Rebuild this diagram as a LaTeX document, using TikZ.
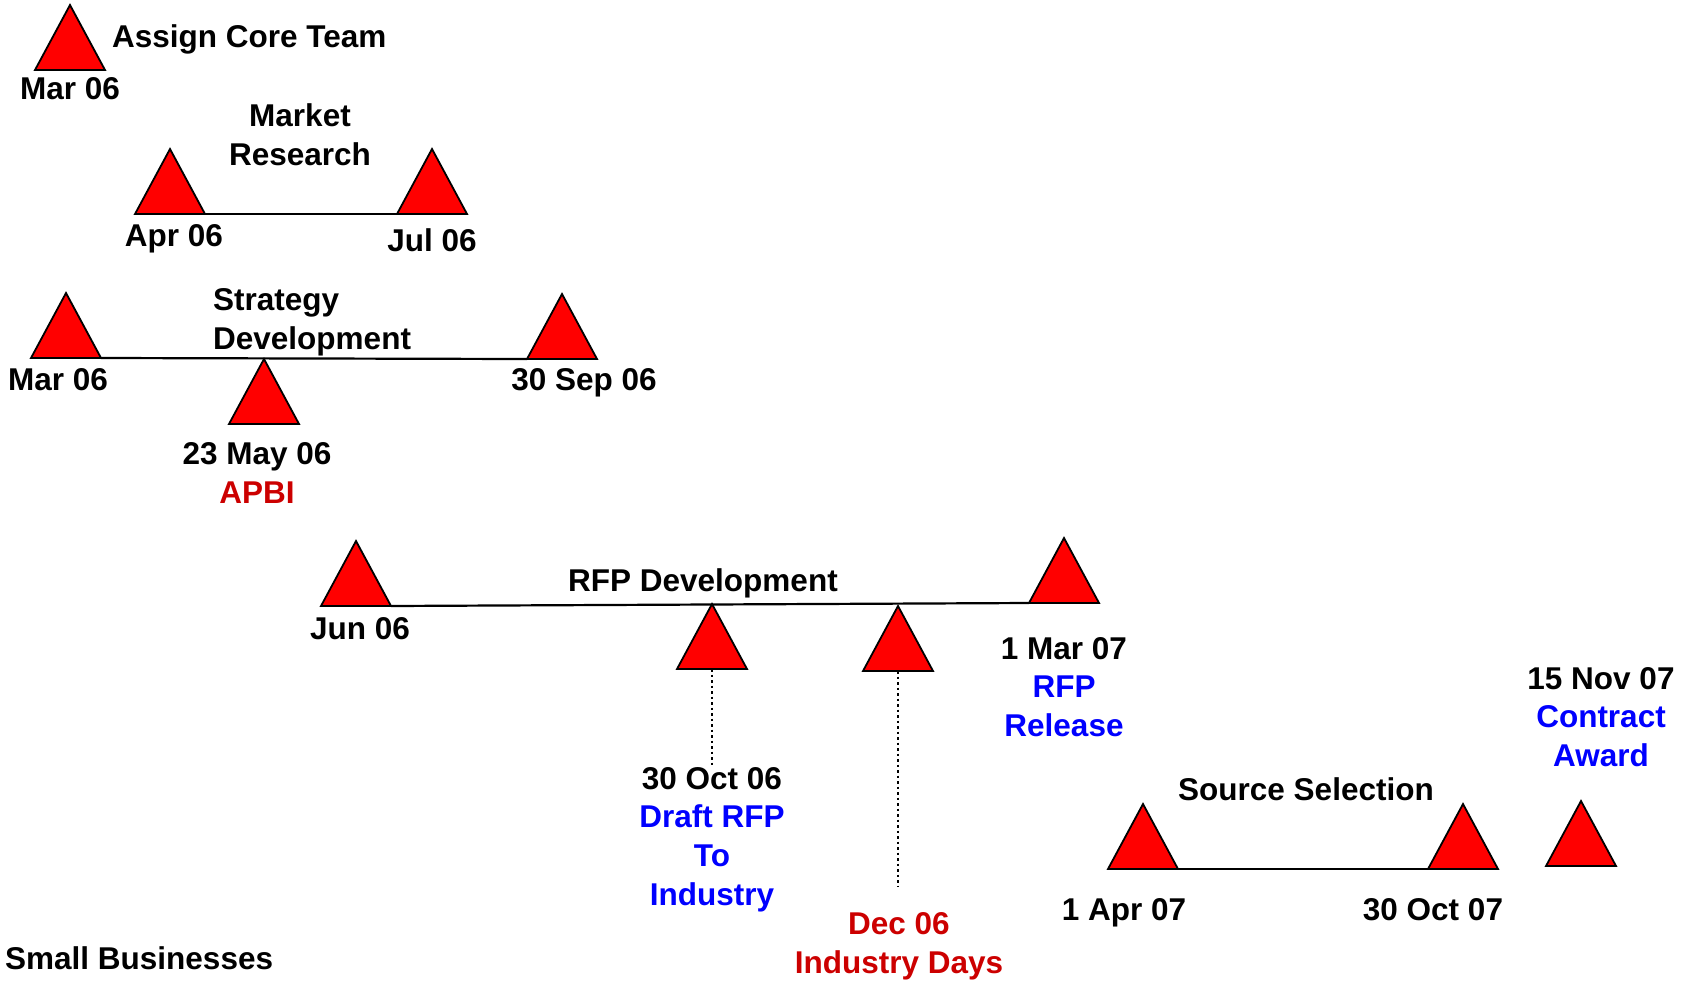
\documentclass[tikz,border=0pt]{standalone}
\usepackage{fontspec}
\setmainfont{Liberation Sans}
\definecolor{tblue}{RGB}{0,0,255}
\definecolor{tred}{RGB}{204,0,0}
\begin{document}
\begin{tikzpicture}[x=1pt,y=-1pt,
  txt/.style={font=\fontsize{31.5}{38.8}\selectfont\bfseries, inner sep=0pt, align=center},
  link/.style={line width=2.2pt},
  dots/.style={line width=2.4pt, dash pattern=on 2.5pt off 3pt},
  ms/.pic={\draw[fill=red, line width=1.8pt, line join=miter] (-35,0) -- (0,-65) -- (35,0) -- cycle;
           \coordinate (-l) at (-35,0); \coordinate (-r) at (35,0);
           \coordinate (-t) at (0,-65); \coordinate (-b) at (0,0);}]
\useasboundingbox (0,0) rectangle (1692,980);

% milestones (apex x, base y)
\pic (a1) at (70,70) {ms};
\pic (m1) at (170,214) {ms};
\pic (m2) at (432,214) {ms};
\pic (s1) at (66,358) {ms};
\pic (s2) at (562,359) {ms};
\pic (s3) at (264,424) {ms};
\pic (r1) at (356,606) {ms};
\pic (r2) at (1064,603) {ms};
\pic (r3) at (712,669) {ms};
\pic (r4) at (898,671) {ms};
\pic (c1) at (1143,869) {ms};
\pic (c2) at (1463,869) {ms};
\pic (c3) at (1581,866) {ms};

% connectors
\draw[link] (m1-r) -- (m2-l);
\draw[link] (s1-r) -- (s2-l);
\draw[link] (r1-r) -- (r2-l);
\draw[link] (c1-r) -- (c2-l);
\coordinate (d1) at (712,766);
\coordinate (d2) at (898,887);
\draw[dots] (r3-b) -- (d1);
\draw[dots] (r4-b) -- (d2);

% labels
\node[txt, anchor=west] (tAssign) at (112,39) {Assign Core Team};
\node[txt] (tMar1) at (70,89) {Mar 06};
\node[txt] (tMarket) at (300,135) {Market\\Research};
\node[txt] (tApr) at (174,239) {Apr 06};
\node[txt] (tJul) at (432,240) {Jul 06};
\node[txt, anchor=west, align=left] (tStrat) at (213,322.5) {Strategy\\Development};
\node[txt] (tMar2) at (58,380) {Mar 06};
\node[txt] (tSep) at (584,383) {30 Sep 06};
\node[txt] (tMay) at (257,473) {23 May 06\\\textcolor{tred}{APBI}};
\node[txt] (tRFPDev) at (703,583) {RFP Development};
\node[txt] (tJun) at (360,629) {Jun 06};
\node[txt] (tRel) at (1064,687) {1 Mar 07\\\textcolor{tblue}{RFP}\\\textcolor{tblue}{Release}};
\node[txt] (tDraft) at (712,839.5) {30 Oct 06\\\textcolor{tblue}{Draft RFP}\\\textcolor{tblue}{To}\\\textcolor{tblue}{Industry}};
\node[txt, text=tred] (tDec) at (899,946) {Dec 06\\Industry Days};
\node[txt] (tSrc) at (1306,789) {Source Selection};
\node[txt] (tApr7) at (1124,913) {1 Apr 07};
\node[txt] (tOct7) at (1433,910) {30 Oct 07};
\node[txt] (tNov) at (1601,717) {15 Nov 07\\\textcolor{tblue}{Contract}\\\textcolor{tblue}{Award}};
\node[txt, anchor=west] (tSmall) at (5,958) {Small Businesses};
\end{tikzpicture}
\end{document}
